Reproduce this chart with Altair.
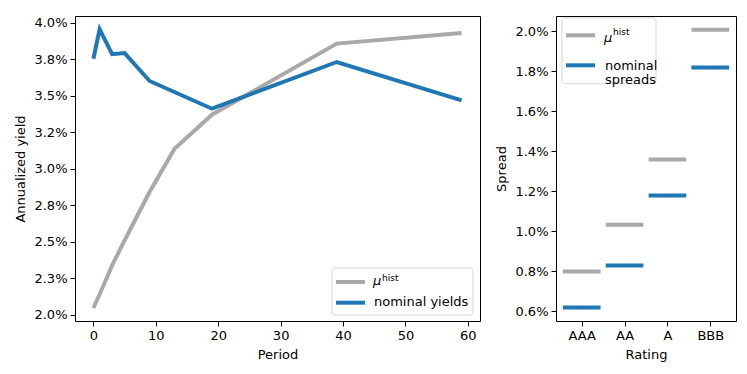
import altair as alt
import pandas as pd

# ---- data ----
mu_periods = [0, 1, 3, 5, 9, 13, 19, 39, 59]
mu_hist_yields = [2.046, 2.14, 2.338, 2.51, 2.84, 3.137, 3.37, 3.857, 3.929]
nom_periods = [0, 1, 3, 5, 9, 19, 39, 59]
nominal_yields = [3.753, 3.955, 3.784, 3.792, 3.601, 3.411, 3.731, 3.468]

yield_ticks = [2.0, 2.25, 2.5, 2.75, 3.0, 3.25, 3.5, 3.75, 4.0]
yield_tick_labels = ["2.0%", "2.3%", "2.5%", "2.8%", "3.0%", "3.2%", "3.5%", "3.8%", "4.0%"]
period_ticks = [0, 10, 20, 30, 40, 50, 60]

ratings = ["AAA", "AA", "A", "BBB"]
mu_spreads = [0.80, 1.033, 1.36, 2.008]
nominal_spreads = [0.62, 0.83, 1.18, 1.82]
spread_ticks = [0.6, 0.8, 1.0, 1.2, 1.4, 1.6, 1.8, 2.0]

GRAY = "#a9a9a9"
BLUE = "#1f77b4"
FONT = "DejaVu Sans"

df_mu = pd.DataFrame({"period": mu_periods, "value": mu_hist_yields})
df_nom = pd.DataFrame({"period": nom_periods, "value": nominal_yields})

ylabel_expr = "[" + ",".join("'%s'" % s for s in yield_tick_labels) + "][indexof([" + \
    ",".join(repr(v) for v in yield_ticks) + "], datum.value)]"

xenc = alt.X("period:Q", scale=alt.Scale(domain=[-2.95, 61.95], nice=False, zero=False),
             axis=alt.Axis(values=period_ticks, title="Period"))
yenc = alt.Y("value:Q", scale=alt.Scale(domain=[1.957, 4.046], nice=False, zero=False),
             axis=alt.Axis(values=yield_ticks, labelExpr=ylabel_expr, title="Annualized yield"))

line_mu = alt.Chart(df_mu).mark_line(color=GRAY, strokeWidth=4).encode(x=xenc, y=yenc)
line_nom = alt.Chart(df_nom).mark_line(color=BLUE, strokeWidth=4).encode(x=xenc, y=yenc)

one = pd.DataFrame({"a": [0]})


def legend_layers(box, swatches, texts):
    layers = []
    x0, x1, y0, y1 = box
    layers.append(alt.Chart(one).mark_rect(fill="white", fillOpacity=0.8, stroke="#d6d6d6",
                                            strokeWidth=1, cornerRadius=3).encode(
        x=alt.value(x0), x2=alt.value(x1), y=alt.value(y0), y2=alt.value(y1)))
    for (sx0, sx1, sy, col) in swatches:
        layers.append(alt.Chart(one).mark_rule(color=col, strokeWidth=4).encode(
            x=alt.value(sx0), x2=alt.value(sx1), y=alt.value(sy)))
    for (tx, ty, txt, size, italic) in texts:
        layers.append(alt.Chart(one).mark_text(align="left", baseline="alphabetic", font=FONT,
                                               fontSize=size, color="black",
                                               fontStyle="italic" if italic else "normal").encode(
            x=alt.value(tx), y=alt.value(ty), text=alt.value(txt)))
    return layers


left_legend = legend_layers(
    (257, 398, 252, 299),
    [(261, 290, 266, GRAY), (261, 290, 286.7, BLUE)],
    [(298, 269, "\u03bc", 13, True), (307, 265.3, "hist", 9, False),
     (299, 290, "nominal yields", 13, False)],
)

left = alt.layer(line_mu, line_nom, *left_legend).properties(width=405, height=305)

# ---- right panel ----
df_sp = pd.DataFrame({
    "pos": list(range(len(ratings))) * 2,
    "value": mu_spreads + nominal_spreads,
    "series": ["mu"] * len(ratings) + ["nominal"] * len(ratings),
})
rating_expr = "[" + ",".join("'%s'" % r for r in ratings) + "][datum.value]"

rules = alt.Chart(df_sp).transform_calculate(
    x0="datum.pos - 0.44", x1="datum.pos + 0.44"
).mark_rule(strokeWidth=4).encode(
    x=alt.X("x0:Q", scale=alt.Scale(domain=[-0.6, 3.6], nice=False, zero=False),
            axis=alt.Axis(values=list(range(len(ratings))), labelExpr=rating_expr, title="Rating")),
    x2="x1:Q",
    y=alt.Y("value:Q", scale=alt.Scale(domain=[0.552, 2.077], nice=False, zero=False),
            axis=alt.Axis(values=spread_ticks, labelExpr="format(datum.value, '.1f') + '%'",
                          title="Spread")),
    color=alt.Color("series:N", scale=alt.Scale(domain=["mu", "nominal"], range=[GRAY, BLUE]),
                    legend=None),
)

right_legend = legend_layers(
    (6, 100, 2, 67.7),
    [(10, 39, 19.3, GRAY), (10, 39, 49.3, BLUE)],
    [(48, 26, "\u03bc", 13, True), (57, 18.7, "hist", 9, False),
     (49, 54, "nominal", 13, False), (49, 68, "spreads", 13, False)],
)

right = alt.layer(rules, *right_legend).properties(width=180, height=305)

chart = alt.hconcat(left, right, spacing=14).properties(
    padding={"left": 6, "top": 7, "right": 0, "bottom": 0}
).configure_axis(
    labelFont=FONT, labelFontSize=13, labelColor="black",
    titleFont=FONT, titleFontSize=13, titleFontWeight="normal", titleColor="black",
    tickColor="black", tickSize=5, tickWidth=1, domain=False, grid=False, labelPadding=3,
    titlePadding=6,
).configure_view(stroke="black", strokeWidth=1)

chart.save("out.html", embed_options={"renderer": "svg", "actions": False})
